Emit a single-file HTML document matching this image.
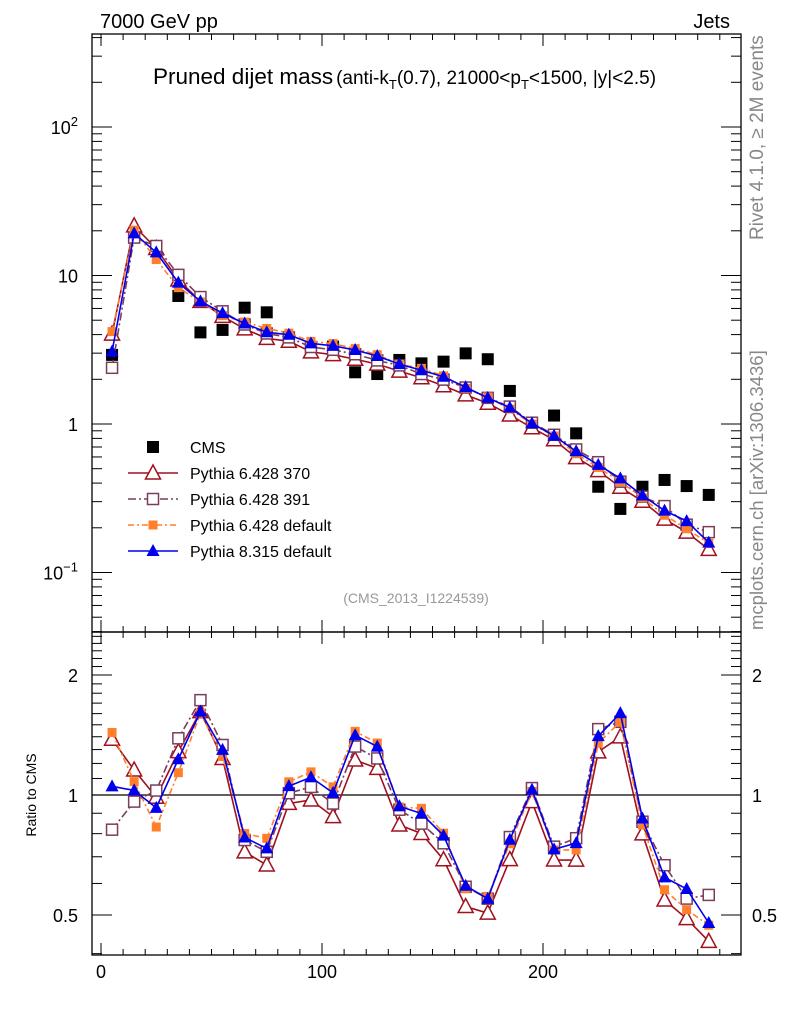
<!DOCTYPE html>
<html><head><meta charset="utf-8"><style>
body{margin:0;background:#fff;}
svg{display:block;font-family:"Liberation Sans","DejaVu Sans",sans-serif;}
</style></head><body>
<svg id="chart" width="786" height="1024" xmlns="http://www.w3.org/2000/svg">
<rect width="786" height="1024" fill="#fff"/>
<text x="100" y="28" font-size="20">7000 GeV pp</text>
<text x="730" y="28" font-size="20" text-anchor="end">Jets</text>
<text x="153" y="84" font-size="22.5">Pruned dijet mass<tspan font-size="19" dx="3">(anti-k</tspan><tspan font-size="13" dy="5">T</tspan><tspan font-size="19" dy="-5">(0.7), 21000&lt;p</tspan><tspan font-size="13" dy="5">T</tspan><tspan font-size="19" dy="-5">&lt;1500, |y|&lt;2.5)</tspan></text>
<text transform="translate(763,240) rotate(-90)" font-size="19" fill="#888">Rivet 4.1.0, ≥ 2M events</text>
<text transform="translate(763,630) rotate(-90)" font-size="18.5" fill="#888">mcplots.cern.ch [arXiv:1306.3436]</text>
<text x="416" y="603" font-size="14" fill="#999" text-anchor="middle">(CMS_2013_I1224539)</text>
<text transform="translate(36,795) rotate(-90)" font-size="14" text-anchor="middle">Ratio to CMS</text>
<g id="axes"></g>
<g id="marks"></g>
<g id="legend"></g>
</svg>
<script>
const bins = [5,15,25,35,45,55,65,75,85,95,105,115,125,135,145,155,165,175,185,195,205,215,225,235,245,255,265,275];
const cmsValues = [2.92,18.7,15.4,7.28,4.14,4.30,6.07,5.65,3.79,3.15,3.32,2.23,2.17,2.70,2.56,2.63,2.99,2.73,1.67,0.98,1.14,0.865,0.378,0.268,0.378,0.42,0.382,0.333];
const py370Values = [4.03,21.6,15.2,9.35,6.70,5.31,4.37,3.77,3.61,3.06,2.93,2.73,2.53,2.27,2.05,1.81,1.57,1.38,1.15,0.943,0.783,0.594,0.485,0.375,0.302,0.229,0.187,0.143];
const py391Values = [2.39,18.0,15.8,10.1,7.16,5.74,4.68,4.07,3.83,3.30,3.16,2.95,2.68,2.48,2.17,1.99,1.76,1.50,1.31,1.02,0.846,0.674,0.553,0.409,0.324,0.280,0.210,0.187];
const py6defValues = [4.19,20.2,12.8,8.28,6.64,5.37,4.86,4.40,4.09,3.60,3.48,3.22,2.93,2.52,2.37,2.11,1.74,1.52,1.26,1.00,0.830,0.630,0.510,0.409,0.318,0.243,0.197,0.157];
const py8defValues = [3.07,19.2,14.3,8.95,6.70,5.58,4.75,4.15,3.99,3.49,3.36,3.15,2.87,2.53,2.30,2.08,1.77,1.50,1.29,1.01,0.833,0.655,0.531,0.430,0.330,0.261,0.222,0.159];
const xTickLabels = ["0","100","200"];
const mainTickLabels = ["10^-1","1","10","10^2"];
const ratioTickLabels = ["0.5","1","2"];

const NS="http://www.w3.org/2000/svg";
const L=92,R=741,T=34,M=632,B=955;
const X=v=>101+v*2.21;
const Y=v=>424-Math.log10(v)*148.5;
const YR=v=>795-Math.log10(v)*398.7;
function mk(tag,at,parent){const e=document.createElementNS(NS,tag);for(const k in at)e.setAttribute(k,at[k]);parent.appendChild(e);return e;}
const axes=document.getElementById('axes'),marks=document.getElementById('marks'),leg=document.getElementById('legend');

let f1=mk('rect',{x:L,y:T,width:R-L,height:M-T,fill:'none',stroke:'#000','stroke-width':1.3},axes);


let f2=mk('rect',{x:L,y:M,width:R-L,height:B-M,fill:'none',stroke:'#000','stroke-width':1.3},axes);



for(let v=0;v<=290;v+=10){
  const x=X(v);if(x<L||x>R)continue;
  const len=v%100===0?12:6;
  for(const [y0,d] of [[T,1],[M,-1],[M,1],[B,-1]]){
    const t=mk('line',{x1:x,x2:x,y1:y0,y2:y0+d*len,stroke:'#000'},axes);
    
    
  }
}
xTickLabels.forEach((s)=>{
  const t=mk('text',{x:X(+s),y:978,'font-size':18,'text-anchor':'middle'},axes);t.textContent=s;
  
  
});
for(let e=-2;e<=2;e++){for(let m=1;m<10;m++){
  const v=m*Math.pow(10,e);const y=Y(v);if(y<T||y>M)continue;
  const len=m===1?20:10;
  for(const [x0,d] of [[L,1],[R,-1]]){
    const t=mk('line',{x1:x0,x2:x0+d*len,y1:y,y2:y,stroke:'#000'},axes);
    
    
  }
}}
mainTickLabels.forEach(s=>{
  let v;
  const t=mk('text',{x:78,'font-size':18,'text-anchor':'end'},axes);
  if(s.startsWith('10^')){const ex=s.slice(3);v=Math.pow(10,+ex);
    t.textContent='10';const ts=mk('tspan',{dy:-8,'font-size':13},t);ts.textContent=ex==='-1'?'−1':ex;}
  else{v=+s;t.textContent=s;}
  t.setAttribute('y',Y(v)+7);
  
  
});
for(let v=0.4;v<=2.6;v=Math.round((v+0.1)*10)/10){
  const y=YR(v);if(y<M||y>B)continue;
  const major=(v===0.5||v===1||v===2);const len=major?20:10;
  for(const [x0,d] of [[L,1],[R,-1]]){
    const t=mk('line',{x1:x0,x2:x0+d*len,y1:y,y2:y,stroke:'#000'},axes);
    
    
  }
}
ratioTickLabels.forEach(s=>{
  for(const [x,a] of [[78,'end'],[752,'start']]){
    const t=mk('text',{x:x,y:YR(+s)+7,'font-size':18,'text-anchor':a},axes);t.textContent=s;
    
    
  }
});
const one=mk('line',{x1:L,x2:R,y1:YR(1),y2:YR(1),stroke:'#000','stroke-width':1.2},axes);



function marker(g,type,x,y,color){
  let e;
  if(type==='sq-fill'){e=mk('rect',{x:x-6,y:y-6,width:12,height:12,fill:'#000'},g);}
  else if(type==='tri-open'){e=mk('path',{d:`M${x} ${y-8}L${x+7.5} ${y+6}L${x-7.5} ${y+6}Z`,fill:'#fff',stroke:color,'stroke-width':1.5},g);}
  else if(type==='sq-open'){e=mk('rect',{x:x-5.5,y:y-5.5,width:11,height:11,fill:'#fff',stroke:color,'stroke-width':1.5},g);}
  else if(type==='sq-small'){e=mk('rect',{x:x-4.5,y:y-4.5,width:9,height:9,fill:color},g);}
  else {e=mk('path',{d:`M${x} ${y-7}L${x+6.5} ${y+5}L${x-6.5} ${y+5}Z`,fill:color},g);}
  return e;
}
const series=[
 {name:'pythia-6428-370',label:'Pythia 6.428 370',vals:py370Values,color:'#a0101e',dash:'',type:'tri-open'},
 {name:'pythia-6428-391',label:'Pythia 6.428 391',vals:py391Values,color:'#7a3d5c',dash:'8,3,2,3',type:'sq-open'},
 {name:'pythia-6428-default',label:'Pythia 6.428 default',vals:py6defValues,color:'#ff7f2a',dash:'6,3,2,3',type:'sq-small'},
 {name:'pythia-8315-default',label:'Pythia 8.315 default',vals:py8defValues,color:'#0000ee',dash:'',type:'tri-fill'}
];
const cg=mk('g',{},marks);


cmsValues.forEach((v,i)=>{const m=marker(cg,'sq-fill',X(bins[i]),Y(v));
  
  });
series.forEach(s=>{
  const g=mk('g',{},marks);
  
  
  const pm=s.vals.map((v,i)=>`${X(bins[i])},${Y(v)}`).join(' ');
  const pr=s.vals.map((v,i)=>`${X(bins[i])},${YR(v/cmsValues[i])}`).join(' ');
  const l1=mk('polyline',{points:pm,fill:'none',stroke:s.color,'stroke-width':1.6,'stroke-dasharray':s.dash},g);
  
  
  const l2=mk('polyline',{points:pr,fill:'none',stroke:s.color,'stroke-width':1.6,'stroke-dasharray':s.dash},g);
  
  
  s.vals.forEach((v,i)=>{
    const a=marker(g,s.type,X(bins[i]),Y(v),s.color);
    
    
    const b=marker(g,s.type,X(bins[i]),YR(v/cmsValues[i]),s.color);
    
    
  });
});
const lg=mk('g',{},leg);


const e0=mk('g',{},lg);


marker(e0,'sq-fill',153,447);
let t0=mk('text',{x:190,y:453,'font-size':16},e0);t0.textContent='CMS';
series.forEach((s,k)=>{
  const y=473+k*26;
  const e=mk('g',{},lg);
  
  
  mk('line',{x1:128,x2:178,y1:y,y2:y,stroke:s.color,'stroke-width':1.6,'stroke-dasharray':s.dash},e);
  marker(e,s.type,153,y,s.color);
  const t=mk('text',{x:190,y:y+6,'font-size':16},e);t.textContent=s.label;
});
</script>
</body></html>
